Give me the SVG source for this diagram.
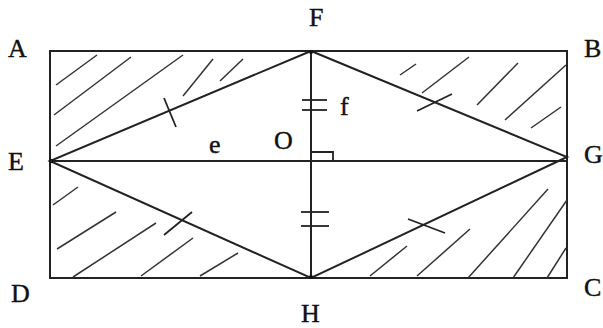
<svg xmlns="http://www.w3.org/2000/svg" width="603" height="328" viewBox="0 0 603 328">
<style>
.main{stroke:#222;stroke-width:2;fill:none}
.hatch{stroke:#333;stroke-width:1.5;fill:none}
.tick{stroke:#222;stroke-width:1.8;fill:none}
text{font-family:"Liberation Serif","Times New Roman",serif;font-size:26px;fill:#111;stroke:#111;stroke-width:0.4}
</style>
<rect width="603" height="328" fill="#fff"/>
<g id="connectors">
<rect class="main" x="50" y="51" width="517" height="227"/>
<line class="main" x1="50" y1="161" x2="567" y2="161"/>
<line class="main" x1="311" y1="51" x2="311" y2="278"/>
<polyline class="main" points="311,51 50,161 311,278 567,157 311,51"/>
<polyline class="tick" points="311,152 333,152 333,161"/>
</g>
<g id="hatching">
<line class="hatch" x1="56" y1="85" x2="97" y2="55"/>
<line class="hatch" x1="54" y1="115" x2="131" y2="57"/>
<line class="hatch" x1="56" y1="146" x2="183" y2="55"/>
<line class="hatch" x1="183" y1="96" x2="213" y2="59"/>
<line class="hatch" x1="220" y1="81" x2="243" y2="59"/>
<line class="hatch" x1="400" y1="75" x2="416" y2="64"/>
<line class="hatch" x1="422" y1="93" x2="469" y2="57"/>
<line class="hatch" x1="477" y1="105" x2="518" y2="63"/>
<line class="hatch" x1="505" y1="120" x2="566" y2="65"/>
<line class="hatch" x1="531" y1="128" x2="561" y2="107"/>
<line class="hatch" x1="53" y1="205" x2="78" y2="187"/>
<line class="hatch" x1="57" y1="249" x2="116" y2="212"/>
<line class="hatch" x1="73" y1="277" x2="156" y2="223"/>
<line class="hatch" x1="141" y1="276" x2="193" y2="238"/>
<line class="hatch" x1="200" y1="276" x2="238" y2="253"/>
<line class="hatch" x1="370" y1="276" x2="407" y2="246"/>
<line class="hatch" x1="417" y1="276" x2="470" y2="229"/>
<line class="hatch" x1="468" y1="278" x2="548" y2="189"/>
<line class="hatch" x1="513" y1="278" x2="567" y2="200"/>
<line class="hatch" x1="547" y1="278" x2="566" y2="248"/>
</g>
<g id="ticks">
<line class="tick" x1="164" y1="98" x2="176" y2="127"/>
<line class="tick" x1="417" y1="111" x2="452" y2="94"/>
<line class="tick" x1="164" y1="235" x2="192" y2="212"/>
<line class="tick" x1="408" y1="219" x2="445" y2="233"/>
<line class="tick" x1="302" y1="100" x2="327" y2="100"/>
<line class="tick" x1="302" y1="110" x2="327" y2="110"/>
<line class="tick" x1="301" y1="212" x2="329" y2="212"/>
<line class="tick" x1="301" y1="226" x2="329" y2="226"/>
</g>
<g id="vertices">
<circle cx="311" cy="52" r="2" fill="#111"/>
<circle cx="311" cy="277" r="2" fill="#111"/>
<circle cx="51" cy="161" r="1.8" fill="none" stroke="#111" stroke-width="1"/>
</g>
<g id="node-A"><text x="8" y="57">A</text></g>
<g id="node-B"><text x="584" y="57">B</text></g>
<g id="node-C"><text x="584" y="296">C</text></g>
<g id="node-D"><text x="11" y="302">D</text></g>
<g id="node-E"><text x="8" y="170">E</text></g>
<g id="node-F"><text x="309" y="26">F</text></g>
<g id="node-G"><text x="584" y="163">G</text></g>
<g id="node-H"><text x="301" y="322">H</text></g>
<g id="node-O"><text x="274" y="149">O</text></g>
<g id="label-e"><text x="209" y="153">e</text></g>
<g id="label-f"><text x="340" y="115">f</text></g>
</svg>
